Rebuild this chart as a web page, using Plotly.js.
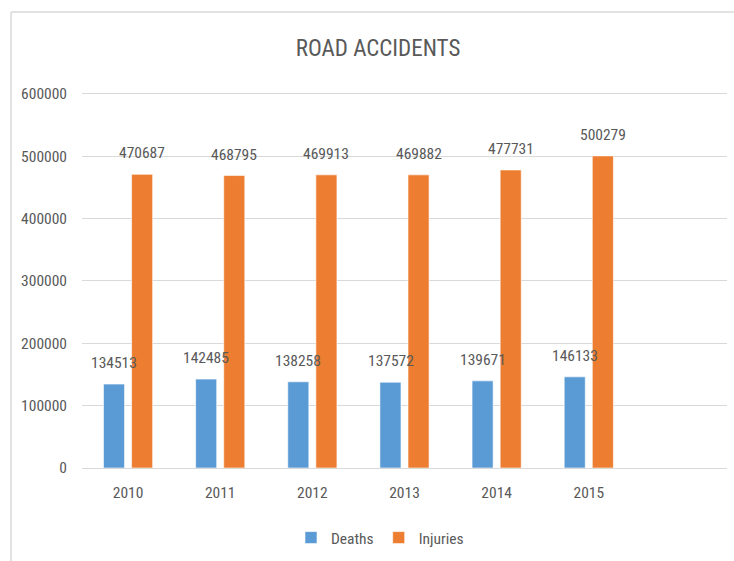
<!DOCTYPE html>
<html>
<head>
<meta charset="utf-8">
<script src="https://cdn.plot.ly/plotly-3.0.1.min.js"></script>
<style>html,body{margin:0;padding:0;background:#fff;}#chart{width:734px;height:561px;}</style>
</head>
<body>
<div id="chart"></div>
<script>
const years = ['2010', '2011', '2012', '2013', '2014', '2015'];
const deaths = [134513, 142485, 138258, 137572, 139671, 146133];
const injuries = [470687, 468795, 469913, 469882, 477731, 500279];
const yTicks = [0, 100000, 200000, 300000, 400000, 500000, 600000];

const FONT = '"Roboto Condensed", "Open Sans Condensed", sans-serif';
const TXT = '#595959';

const traces = [
  {type: 'bar', name: 'Deaths', x: years, y: deaths,
   marker: {color: '#5B9BD5', line: {color: '#FFFFFF', width: 0.6}}},
  {type: 'bar', name: 'Injuries', x: years, y: injuries,
   marker: {color: '#ED7D31', line: {color: '#FFFFFF', width: 0.6}}}
];

const annotations = [];
years.forEach((yr, i) => {
  annotations.push({x: i, y: deaths[i], xref: 'x', yref: 'y', text: String(deaths[i]),
    showarrow: false, xshift: -14, yshift: 21, yanchor: 'middle', xanchor: 'center',
    font: {family: FONT, size: 15.5, color: TXT}});
  annotations.push({x: i, y: injuries[i], xref: 'x', yref: 'y', text: String(injuries[i]),
    showarrow: false, xshift: 14, yshift: 21, yanchor: 'middle', xanchor: 'center',
    font: {family: FONT, size: 15.5, color: TXT}});
});

const L = 82, R = 727, T = 91, B = 468;
const px = v => (v - L) / (R - L);
const py = v => (B - v) / (B - T);

const layout = {
  width: 734, height: 561,
  margin: {l: L, r: 734 - R, t: T, b: 561 - B, autoexpand: false},
  paper_bgcolor: '#FFFFFF', plot_bgcolor: '#FFFFFF',
  font: {family: FONT, size: 15.5, color: TXT},
  title: {text: 'ROAD ACCIDENTS', font: {family: FONT, size: 23, color: TXT},
          x: 378 / 734, xanchor: 'center', xref: 'container',
          y: 1 - 48 / 561, yanchor: 'middle', yref: 'container'},
  barmode: 'group', bargap: 0.39, bargroupgap: 0.25,
  xaxis: {type: 'category', categoryorder: 'array', categoryarray: years,
          range: [-0.5, 6.5], showgrid: false, zeroline: false,
          showline: true, linecolor: '#D9D9D9', linewidth: 1,
          ticks: '', ticklabelstandoff: 10,
          tickfont: {family: FONT, size: 15.5, color: TXT}, fixedrange: true},
  yaxis: {range: [0, 604300], tickvals: yTicks, ticktext: yTicks.map(String),
          showgrid: true, gridcolor: '#D9D9D9', gridwidth: 1, zeroline: false,
          showline: false, ticks: '', ticklabelstandoff: 14,
          tickfont: {family: FONT, size: 15.5, color: TXT}, fixedrange: true},
  showlegend: true,
  legend: {orientation: 'h', xref: 'paper', x: px(380), xanchor: 'center',
           y: py(538), yanchor: 'middle',
           font: {family: FONT, size: 15.5, color: TXT}, itemwidth: 30,
           bgcolor: 'rgba(0,0,0,0)'},
  annotations: annotations,
  shapes: [
    {type: 'line', xref: 'paper', yref: 'paper', x0: px(11), x1: px(11), y0: py(12), y1: py(561),
     line: {color: '#D9D9D9', width: 1.5}},
    {type: 'line', xref: 'paper', yref: 'paper', x0: px(11), x1: px(734), y0: py(12), y1: py(12),
     line: {color: '#D9D9D9', width: 1.5}}
  ]
};

Plotly.newPlot('chart', traces, layout, {displayModeBar: false, staticPlot: true});
</script>
</body>
</html>
